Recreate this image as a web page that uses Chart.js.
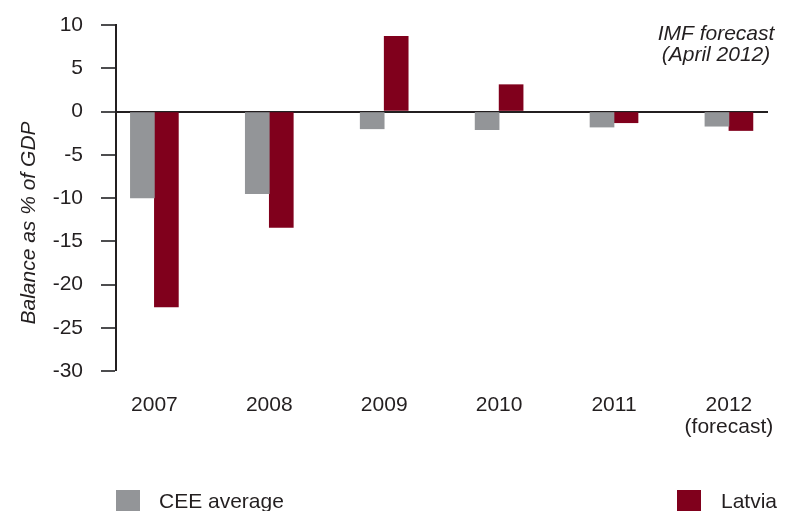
<!DOCTYPE html>
<html>
<head>
<meta charset="utf-8">
<style>
  html, body { margin: 0; padding: 0; background: #ffffff; }
  #wrap { width: 785px; height: 511px; }
</style>
<script src="https://cdn.jsdelivr.net/npm/chart.js@4.4.1/dist/chart.umd.min.js"></script>
</head>
<body>
<div id="wrap"><canvas id="chart" width="785" height="511"></canvas></div>
<script>
// Years on the horizontal axis and their tick labels
const years = [2007, 2008, 2009, 2010, 2011, 2012];
const yearLabels = [['2007'], ['2008'], ['2009'], ['2010'], ['2011'], ['2012', '(forecast)']];

// General government balance, % of GDP
const ceeAverage = [-10.0, -9.5, -2.0, -2.1, -1.8, -1.7];
const latvia = [-22.6, -13.4, 8.7, 3.1, -1.3, -2.2];

// Vertical axis ticks
const yTicks = [10, 5, 0, -5, -10, -15, -20, -25, -30];

const seriesNames = ['CEE average', 'Latvia'];
const seriesColors = ['#939598', '#80001c'];
const noteLines = ['IMF forecast', '(April 2012)'];
const yTitle = 'Balance as % of GDP';

const TEXT = '#231f20';
const FONT = '"Liberation Sans", Arial, Helvetica, sans-serif';

const toPoints = vals => vals.map((v, i) => ({ x: years[i], y: v }));

// Draws the axis title, the note and the legend row
const decorations = {
  id: 'decorations',
  afterDraw(chart) {
    const ctx = chart.ctx;
    ctx.save();
    ctx.fillStyle = TEXT;

    // Rotated axis title
    ctx.save();
    ctx.translate(35, 223);
    ctx.rotate(-Math.PI / 2);
    ctx.font = 'italic 21px ' + FONT;
    ctx.textAlign = 'center';
    ctx.textBaseline = 'alphabetic';
    ctx.fillText(yTitle, 0, 0);
    ctx.restore();

    // Note in the top right corner
    ctx.font = 'italic 21px ' + FONT;
    ctx.textAlign = 'center';
    ctx.textBaseline = 'alphabetic';
    ctx.fillText(noteLines[0], 716, 40);
    ctx.fillText(noteLines[1], 716, 61);

    // Legend: first item on the left, second on the right
    const items = chart.data.datasets.map(ds => ({ label: ds.label, color: ds.backgroundColor }));
    const pos = [{ box: 116, text: 159 }, { box: 677, text: 721 }];
    ctx.font = '21px ' + FONT;
    ctx.textAlign = 'left';
    items.forEach((it, i) => {
      ctx.fillStyle = it.color;
      ctx.fillRect(pos[i].box, 490, 24, 24);
      ctx.fillStyle = TEXT;
      ctx.fillText(it.label, pos[i].text, 508);
    });
    ctx.restore();
  }
};

new Chart(document.getElementById('chart'), {
  type: 'bar',
  data: {
    datasets: [
      { label: seriesNames[0], data: toPoints(ceeAverage), backgroundColor: seriesColors[0] },
      { label: seriesNames[1], data: toPoints(latvia), backgroundColor: seriesColors[1] }
    ]
  },
  options: {
    responsive: false,
    animation: false,
    devicePixelRatio: 1,
    layout: { padding: { top: 25, right: 17, bottom: 0, left: 0 } },
    datasets: { bar: { barThickness: 24, borderWidth: 0 } },
    plugins: { legend: { display: false }, tooltip: { enabled: false } },
    scales: {
      x: {
        type: 'linear',
        offset: false,
        min: 2006.666,
        max: 2012.34,
        grid: { display: false, drawTicks: false },
        border: { display: false },
        afterBuildTicks(scale) { scale.ticks = years.map(v => ({ value: v })); },
        afterFit(scale) { scale.height = 140; scale.paddingLeft = 0; scale.paddingRight = 0; },
        ticks: {
          color: TEXT,
          font: { family: FONT, size: 21, lineHeight: 1.05 },
          padding: 23,
          maxRotation: 0,
          autoSkip: false,
          callback: value => {
            const i = years.indexOf(value);
            return i >= 0 ? yearLabels[i] : '';
          }
        }
      },
      y: {
        min: -30,
        max: 10,
        z: 1,
        afterBuildTicks(scale) { scale.ticks = yTicks.map(v => ({ value: v })); },
        afterFit(scale) { scale.width = 116; scale.paddingTop = 0; scale.paddingBottom = 0; },
        border: { display: true, color: TEXT, width: 2 },
        grid: {
          drawOnChartArea: true,
          drawTicks: true,
          tickLength: 15,
          tickColor: '#4d4d4f',
          tickWidth: 2,
          color: c => (c.tick && c.tick.value === 0 ? TEXT : 'rgba(0,0,0,0)'),
          lineWidth: c => (c.tick && c.tick.value === 0 ? 2 : 0)
        },
        ticks: {
          color: TEXT,
          font: { family: FONT, size: 21 },
          padding: 18,
          callback: v => String(v)
        }
      }
    }
  },
  plugins: [decorations]
});
</script>
</body>
</html>
